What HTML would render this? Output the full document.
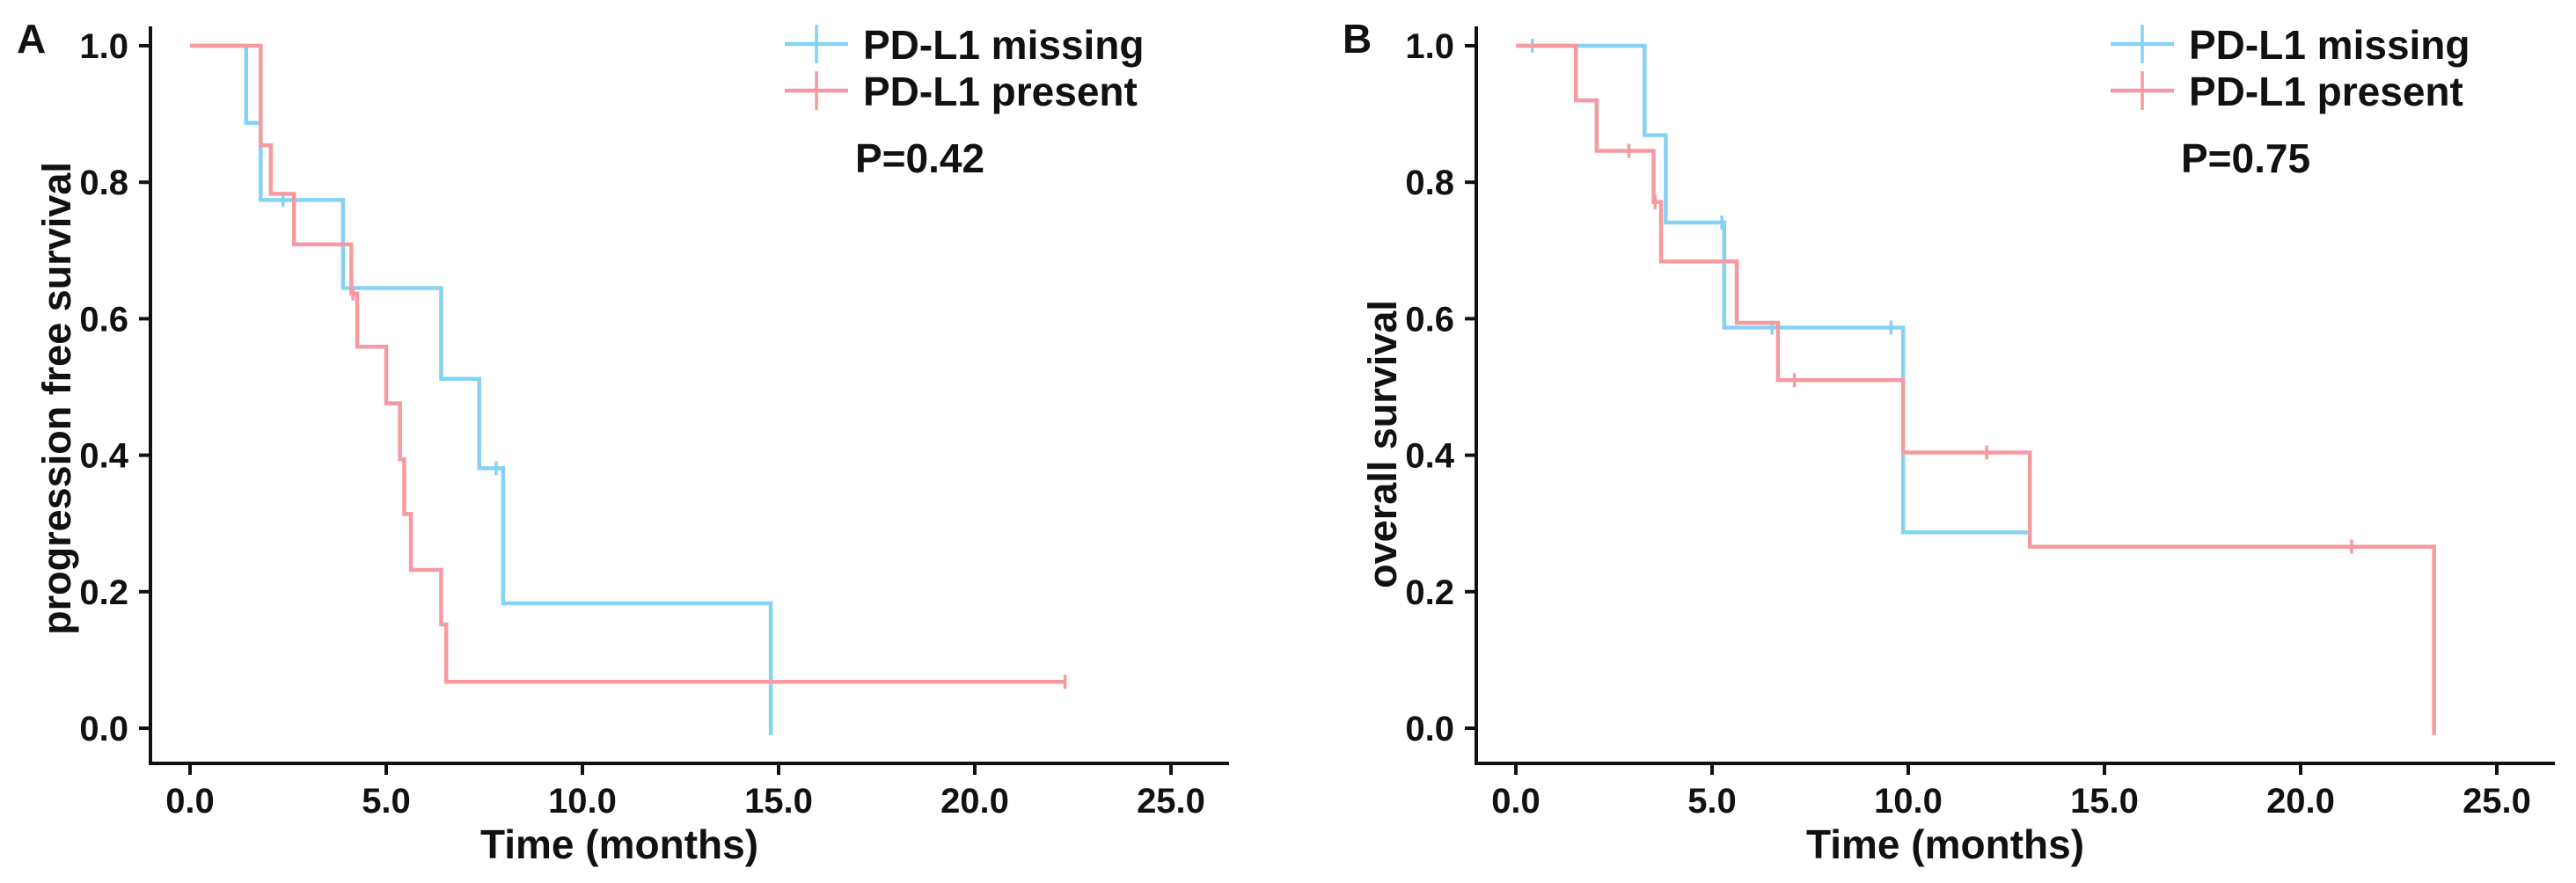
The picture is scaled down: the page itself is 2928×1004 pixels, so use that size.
<!DOCTYPE html>
<html><head><meta charset="utf-8"><style>
html,body{margin:0;padding:0;background:#fff;}
svg{display:block;font-family:"Liberation Sans",Arial,sans-serif;font-weight:bold;}
</style></head><body>
<svg id="chart" width="2928" height="1004" viewBox="0 0 2928 1004" xmlns="http://www.w3.org/2000/svg"></svg>
<script>
// ---- data (months, survival) ----
const xTicks = [0, 5, 10, 15, 20, 25];
const xTickLabels = ["0.0", "5.0", "10.0", "15.0", "20.0", "25.0"];
const yTicks = [0, 0.2, 0.4, 0.6, 0.8, 1.0];
const yTickLabels = ["0.0", "0.2", "0.4", "0.6", "0.8", "1.0"];

// Panel A: progression free survival
const aMissingTimes = [1.43, 1.8, 3.9, 6.4, 7.37, 7.98, 14.8];
const aMissingValues = [0.887, 0.774, 0.645, 0.512, 0.381, 0.183, -0.01];
const aMissingEnd = 14.8;
const aMissingCensor = [2.37, 7.8];
const aPresentTimes = [1.8, 2.06, 2.65, 4.11, 4.26, 5.0, 5.35, 5.46, 5.63, 6.4, 6.53];
const aPresentValues = [0.854, 0.783, 0.709, 0.637, 0.559, 0.476, 0.394, 0.314, 0.232, 0.152, 0.068];
const aPresentEnd = 22.3;
const aPresentCensor = [4.15, 22.3];

// Panel B: overall survival
const bMissingTimes = [3.28, 3.82, 5.31, 9.87];
const bMissingValues = [0.869, 0.741, 0.587, 0.287];
const bMissingEnd = 13.1;
const bMissingCensor = [0.42, 5.25, 6.53, 9.56, 13.1];
const bPresentTimes = [1.53, 2.06, 3.51, 3.7, 5.63, 6.68, 9.87, 13.1, 23.4];
const bPresentValues = [0.92, 0.846, 0.771, 0.684, 0.594, 0.51, 0.404, 0.266, -0.01];
const bPresentEnd = 23.4;
const bPresentCensor = [2.88, 3.55, 7.1, 12.0, 21.3];

const BLUE = "#86d2f5", RED = "#f69aa2";
const NS = "http://www.w3.org/2000/svg";
const svg = document.getElementById("chart");

function mk(tag, attrs, parent) {
  const e = document.createElementNS(NS, tag);
  for (const k in attrs) e.setAttribute(k, attrs[k]);
  (parent || svg).appendChild(e);
  return e;
}

function panel(cfg) {
  const g = mk("g", {});
  
  
  const sx = t => cfg.x0 + t * 44.6;
  const sy = v => 828 - v * 776;
  const axisLeft = cfg.x0 - 45, axisRight = cfg.x0 + 1181;

  const ax = mk("path", {d: `M${axisLeft} 30 V868 H${axisRight}`, fill: "none", stroke: "#111", "stroke-width": 4}, g);
  
  

  yTicks.forEach((v, i) => {
    const t = mk("line", {x1: axisLeft - 13, x2: axisLeft, y1: sy(v), y2: sy(v), stroke: "#111", "stroke-width": 4}, g);
    
    
    const l = mk("text", {x: axisLeft - 25, y: sy(v) + 14, "text-anchor": "end", "font-size": 40, fill: "#111"}, g);
    l.textContent = yTickLabels[i];
    
    
  });
  xTicks.forEach((v, i) => {
    const t = mk("line", {x1: sx(v), x2: sx(v), y1: 868, y2: 881, stroke: "#111", "stroke-width": 4}, g);
    
    
    const l = mk("text", {x: sx(v), y: 924, "text-anchor": "middle", "font-size": 40, fill: "#111"}, g);
    l.textContent = xTickLabels[i];
    
    
  });

  const xt = mk("text", {x: cfg.x0 + 488, y: 976, "text-anchor": "middle", "font-size": 46, fill: "#111"}, g);
  xt.textContent = "Time (months)";
  
  
  const yt = mk("text", {x: 0, y: 0, "text-anchor": "middle", "font-size": 45, fill: "#111",
    transform: `translate(${cfg.x0 - 136},${cfg.ytitleY}) rotate(-90)`}, g);
  yt.textContent = cfg.ytitle;
  
  

  const pl = mk("text", {x: cfg.x0 - 197, y: 60, "font-size": 46, fill: "#111"}, g);
  pl.textContent = cfg.letter;
  
  

  function curve(times, values, end, censor, color, nm) {
    let d = `M${sx(0)} ${sy(1)}`;
    times.forEach((t, i) => { d += ` H${sx(t)} V${sy(values[i])}`; });
    d += ` H${sx(end)}`;
    const p = mk("path", {d: d, fill: "none", stroke: color, "stroke-width": 4.5}, g);
    
    
    censor.forEach(c => {
      let val = 1;
      times.forEach((t, i) => { if (t <= c) val = values[i]; });
      if (val < 0) val = values[values.length - 2];
      const m = mk("line", {x1: sx(c), x2: sx(c), y1: sy(val) - 8, y2: sy(val) + 8, stroke: color, "stroke-width": 3.5}, g);
      
      
    });
  }
  curve(cfg.mT, cfg.mV, cfg.mE, cfg.mC, BLUE, "pd-l1-missing");
  curve(cfg.pT, cfg.pV, cfg.pE, cfg.pC, RED, "pd-l1-present");

  const lx = cfg.legendX;
  [[BLUE, "PD-L1 missing", 50], [RED, "PD-L1 present", 103]].forEach(([c, txt, y]) => {
    const le = mk("g", {}, g);
    
    
    mk("line", {x1: lx, x2: lx + 72, y1: y, y2: y, stroke: c, "stroke-width": 4.5}, le);
    mk("line", {x1: lx + 36, x2: lx + 36, y1: y - 22, y2: y + 22, stroke: c, "stroke-width": 3.5}, le);
    const t = mk("text", {x: lx + 89, y: y + 17, "font-size": 46, fill: "#111"}, le);
    t.textContent = txt;
  });
  const pv = mk("text", {x: lx + 80, y: 196, "font-size": 46, fill: "#111"}, g);
  pv.textContent = cfg.p;
  
  
}

panel({name: "panel-a-pfs", letter: "A", x0: 216, ytitle: "progression free survival", ytitleY: 453,
  mT: aMissingTimes, mV: aMissingValues, mE: aMissingEnd, mC: aMissingCensor,
  pT: aPresentTimes, pV: aPresentValues, pE: aPresentEnd, pC: aPresentCensor,
  legendX: 892, p: "P=0.42"});
panel({name: "panel-b-os", letter: "B", x0: 1723, ytitle: "overall survival", ytitleY: 505,
  mT: bMissingTimes, mV: bMissingValues, mE: bMissingEnd, mC: bMissingCensor,
  pT: bPresentTimes, pV: bPresentValues, pE: bPresentEnd, pC: bPresentCensor,
  legendX: 2399, p: "P=0.75"});
</script>
</body></html>
